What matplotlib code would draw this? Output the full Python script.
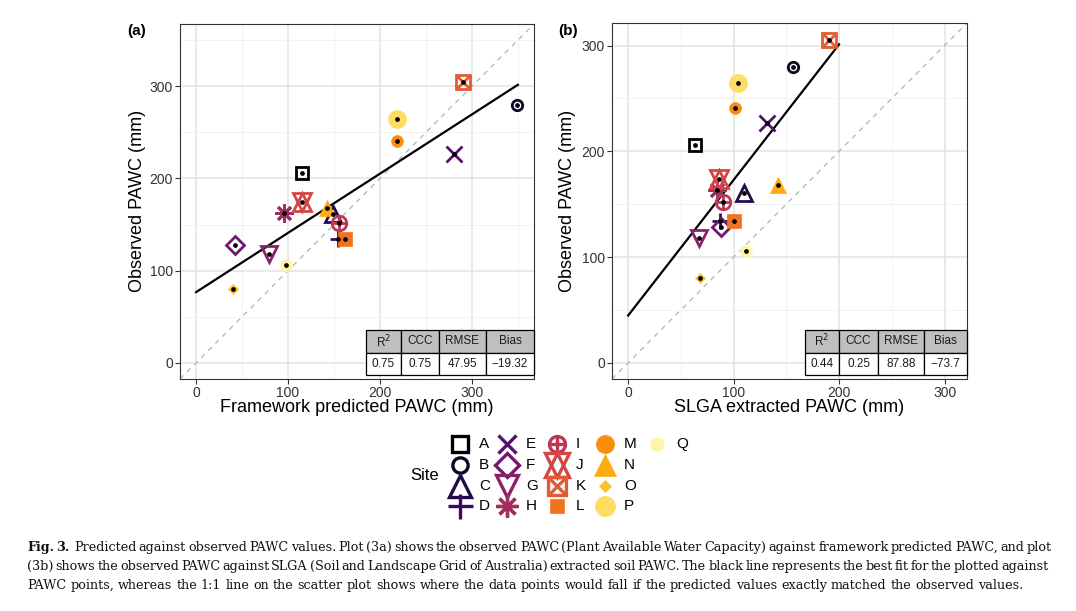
import numpy as np
import matplotlib.pyplot as plt
from matplotlib.patches import Rectangle

# ---- data ----
sites = list("ABCDEFGHIJKLMNOPQ")
observed = [206, 280, 161, 134, 227, 128, 118, 163, 152, 174, 305, 134, 241, 168, 80, 265, 106]
framework_pred = [115, 349, 149, 154, 281, 42, 79, 96, 155, 115, 290, 162, 219, 142, 40, 219, 98]
slga_pred = [63, 156, 110, 87, 132, 88, 67, 84, 90, 86, 190, 100, 101, 142, 68, 104, 112]

stat_names = ["R$^2$", "CCC", "RMSE", "Bias"]
stats_a = ["0.75", "0.75", "47.95", "\u221219.32"]
stats_b = ["0.44", "0.25", "87.88", "\u221273.7"]

caption_lines = [
    "Predicted against observed PAWC values. Plot (3a) shows the observed PAWC (Plant Available Water Capacity) against framework predicted PAWC, and plot",
    "(3b) shows the observed PAWC against SLGA (Soil and Landscape Grid of Australia) extracted soil PAWC. The black line represents the best fit for the plotted against",
    "PAWC points, whereas the 1:1 line on the scatter plot shows where the data points would fall if the predicted values exactly matched the observed values.",
]

# ---- marker styles (ggplot shapes 0..20) ----
shapes = {
    "A": [("s", False)], "B": [("o", False)], "C": [("^", False)], "D": [("+", None)],
    "E": [("x", None)], "F": [("D", False)], "G": [("v", False)], "H": [((8, 2, 0), None)],
    "I": [("o", False), ("+", None)], "J": [("^", False), ("v", False)],
    "K": [("s", False), ("x", None)], "L": [("s", True)], "M": [("o", True)],
    "N": [("^", True)], "O": [("D", True)], "P": [("o", True)], "Q": [("o", True)],
}
sizes = {"A": 8.5, "B": 7.5, "C": 12, "D": 11, "E": 11, "F": 9.5, "G": 12, "H": 13,
         "I": 10.5, "J": 13.5, "K": 10.5, "L": 9.5, "M": 8.5, "N": 11, "O": 5.5, "P": 13, "Q": 8.5}
legend_sizes = {"A": 12, "B": 11, "C": 16.5, "D": 18, "E": 13, "F": 12, "G": 16.5, "H": 16,
                "I": 11.5, "J": 17, "K": 13, "L": 10.5, "M": 13, "N": 15.5, "O": 6.5,
                "P": 14.5, "Q": 9.5}
palette = list(plt.cm.inferno(np.linspace(0, 1, len(sites)))[:14]) + ["#fcc320", "#fedd62", "#fef4a8"]
colors = dict(zip(sites, palette))

plt.rcParams["font.family"] = ["Liberation Sans", "DejaVu Sans"]

W, H = 1076, 611
fig = plt.figure(figsize=(W / 100, H / 100), dpi=100)


def draw_site(ax, x, y, k, ms_table, lw=2.0):
    c = colors[k]
    for marker, filled in shapes[k]:
        ms = ms_table[k]
        if filled is None:
            ax.plot(x, y, ls="none", marker=marker, ms=ms, mew=lw, color=c)
        elif filled:
            ax.plot(x, y, ls="none", marker=marker, ms=ms, mfc=c, mec=c, mew=0.5)
        else:
            ax.plot(x, y, ls="none", marker=marker, ms=ms, mfc="none", mec=c, mew=lw)


def panel(rect, xvals, lim, fit_end, stats, col_px, left_px, xlabel):
    ax = fig.add_axes(rect)
    ax.set_xlim(-0.05 * lim, 1.05 * lim)
    ax.set_ylim(-0.05 * lim, 1.05 * lim)
    ax.set_xticks([0, 100, 200, 300])
    ax.set_yticks([0, 100, 200, 300])
    minors = [m for m in [50, 150, 250, 350] if m < 1.05 * lim]
    ax.set_xticks(minors, minor=True)
    ax.set_yticks(minors, minor=True)
    ax.grid(True, which="major", color="#e3e3e3", lw=1.1)
    ax.grid(True, which="minor", color="#f0f0f0", lw=0.6)
    ax.set_axisbelow(True)
    for s in ax.spines.values():
        s.set_color("#333333")
        s.set_linewidth(0.8)
    ax.tick_params(which="major", length=3.5, width=0.8, color="#333333",
                   labelcolor="#333333", labelsize=10, pad=1.5)
    ax.tick_params(which="minor", length=0)

    # 1:1 line
    ax.plot([-0.05 * lim, 1.05 * lim], [-0.05 * lim, 1.05 * lim], ls=(0, (4, 4)),
            color="#b3b3b3", lw=0.9)
    # best fit
    coef = np.polyfit(xvals, observed, 1)
    xs = np.array([0, fit_end])
    ax.plot(xs, np.polyval(coef, xs), color="black", lw=1.6)

    for x, y, k in zip(xvals, observed, sites):
        draw_site(ax, x, y, k, sizes)
    ax.plot(xvals, observed, ls="none", marker="o", ms=2.4, color="black")

    # stats table
    x0, x1 = rect[0] * W, (rect[0] + rect[2]) * W
    ybot = (1 - rect[1]) * H

    def fx(p):
        return (p - x0) / (x1 - x0)

    def fy(p):
        return (ybot - p) / (rect[3] * H)

    rows = [330, 353, 375]
    edges = [left_px] + col_px
    for i in range(4):
        for r, (txt, fc) in enumerate([(stat_names[i], "#bfbfbf"), (stats[i], "white")]):
            ax.add_patch(Rectangle((fx(edges[i]), fy(rows[r + 1])),
                                   fx(edges[i + 1]) - fx(edges[i]),
                                   fy(rows[r]) - fy(rows[r + 1]),
                                   transform=ax.transAxes, fc=fc, ec="black",
                                   lw=0.9, clip_on=False, zorder=5))
            ax.text((fx(edges[i]) + fx(edges[i + 1])) / 2,
                    (fy(rows[r]) + fy(rows[r + 1])) / 2, txt,
                    transform=ax.transAxes, ha="center", va="center",
                    fontsize=8.5, color="#1a1a1a", zorder=6)

    cx = (x0 + x1) / 2
    fig.text(cx / W, 1 - 408 / H, xlabel, ha="center", va="center", fontsize=13)
    return ax


ax_a = panel([180 / W, 1 - 379 / H, 354 / W, 355 / H], framework_pred, 350, 350,
             stats_a, [401, 439, 486, 534], 366, "Framework predicted PAWC (mm)")
ax_b = panel([612 / W, 1 - 379 / H, 355 / W, 356 / H], slga_pred, 306, 200,
             stats_b, [839, 878, 924, 967], 805, "SLGA extracted PAWC (mm)")

fig.text(138 / W, 1 - 201 / H, "Observed PAWC (mm)", rotation=90, ha="center",
         va="center", fontsize=13)
fig.text(568 / W, 1 - 201 / H, "Observed PAWC (mm)", rotation=90, ha="center",
         va="center", fontsize=13)
fig.text(137 / W, 1 - 31 / H, "(a)", ha="center", va="center", fontsize=11,
         fontweight="bold")
fig.text(568 / W, 1 - 31 / H, "(b)", ha="center", va="center", fontsize=11,
         fontweight="bold")

# ---- legend ----
leg = fig.add_axes([0, 0, 1, 1])
leg.set_xlim(0, W)
leg.set_ylim(H, 0)
leg.axis("off")
col_x = [460, 507, 557, 605, 657]
row_y = [444, 465, 486, 506]
for i, k in enumerate(sites):
    c, r = divmod(i, 4)
    draw_site(leg, col_x[c], row_y[r], k, legend_sizes, lw=2.4)
    leg.text(col_x[c] + 19, row_y[r], k, ha="left", va="center", fontsize=11)
leg.text(425, 476, "Site", ha="center", va="center", fontsize=12)

# ---- caption, justified ----
renderer = fig.canvas.get_renderer()
cap_left, cap_right = 27, 1049
baselines = [551, 570, 589]
cap_kw = dict(family="DejaVu Serif", fontsize=9.2, color="#111111", va="baseline")
probe1 = fig.text(0, 0, "a b", alpha=0, **cap_kw)
probe2 = fig.text(0, 0, "ab", alpha=0, **cap_kw)
sp = probe1.get_window_extent(renderer).width - probe2.get_window_extent(renderer).width
probe1.remove()
probe2.remove()
for li, line in enumerate(caption_lines):
    items = []
    if li == 0:
        items += [(w, "bold") for w in ["Fig.", "3."]]
    items += [(w, "normal") for w in line.split(" ")]
    texts = [fig.text(0, 1 - baselines[li] / H, w, fontweight=fw, **cap_kw) for w, fw in items]
    widths = [t.get_window_extent(renderer).width for t in texts]
    if li < 2:
        gap = (cap_right - cap_left - sum(widths)) / (len(texts) - 1)
    else:
        gap = sp
    x = cap_left
    for j, (t, w) in enumerate(zip(texts, widths)):
        t.set_x(x / W)
        x += w + gap
        if li == 0 and j == 1:
            x += gap

fig.savefig("out.png", dpi=100)
